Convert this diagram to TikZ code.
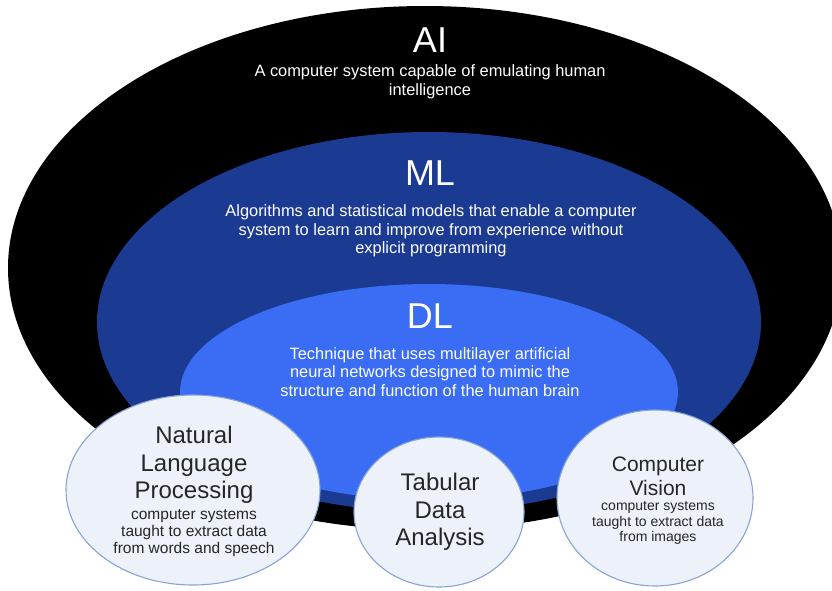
\documentclass[tikz,border=0pt]{standalone}
\usepackage{fontspec}
\setmainfont{Liberation Sans}
\usepackage{tikz}
\definecolor{ml-blue}{HTML}{1B3A92}
\definecolor{dl-blue}{HTML}{3A6CF4}
\definecolor{app-fill}{HTML}{EDF1F9}
\definecolor{app-edge}{HTML}{89A3D6}

\tikzset{
	fieldname/.style={text=white,inner sep=0pt,font=\fontsize{36}{38}\selectfont},
	fieldnote/.style={text=white,inner sep=0pt,align=center,font=\fontsize{16.4}{18.5}\selectfont},
	appbox/.style={fill=app-fill,draw=app-edge,line width=1.1pt},
	appname/.style={text=black!85,inner sep=0pt,align=center},
	appnote/.style={text=black!85,inner sep=0pt,align=center}
}

\begin{document}
\begin{tikzpicture}[x=1pt,y=-1pt]
				\useasboundingbox (0,0) rectangle (832,590);
				\clip (0,0) rectangle (832,590);
				% nested fields
				\fill[black] (425,268) ellipse (417 and 262);
				\fill[ml-blue] (429,322) ellipse (332 and 190);
				\fill[dl-blue] (429,392) ellipse (249 and 108);

				\node[fieldname] (ai) at (430,40) {AI};
				\node[fieldnote] (ai-note) at (430,82) {A computer system capable of emulating human\\intelligence};
				\node[fieldname] (ml) at (430,173) {ML};
				\node[fieldnote] (ml-note) at (431,231) {Algorithms and statistical models that enable a computer\\system to learn and improve from experience without\\explicit programming};
				\node[fieldname] (dl) at (430,316) {DL};
				\node[fieldnote] (dl-note) at (430,372) {Technique that uses multilayer artificial\\neural networks designed to mimic the\\structure and function of the human brain};

				% applications
				\draw[appbox] (193,490) ellipse (127 and 95);
				\draw[appbox] (439,512) ellipse (85 and 75);
				\draw[appbox] (655,498) ellipse (98 and 88);

				\node[appname,font=\fontsize{24}{27.5}\selectfont] (nlp) at (194,465) {Natural\\Language\\Processing};
				\node[appnote,font=\fontsize{15.5}{17}\selectfont] (nlp-note) at (194,533) {computer systems\\taught to extract data\\from words and speech};
				\node[appname,font=\fontsize{24}{27.5}\selectfont] (tab) at (440,512) {Tabular\\Data\\Analysis};
				\node[appname,font=\fontsize{21}{24}\selectfont] (cv) at (658,476) {Computer\\Vision};
				\node[appnote,font=\fontsize{14}{15.5}\selectfont] (cv-note) at (658,523) {computer systems\\taught to extract data\\from images};
\end{tikzpicture}
\end{document}
